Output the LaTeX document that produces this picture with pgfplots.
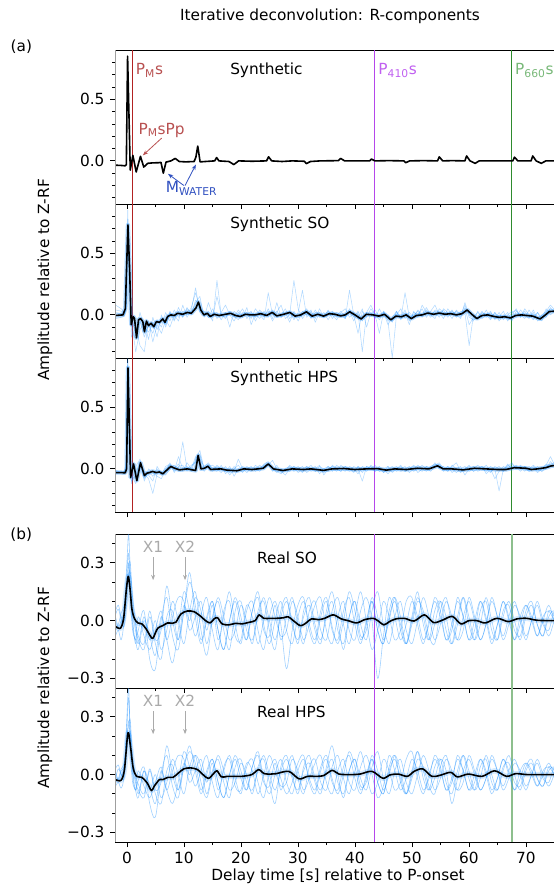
\documentclass[border=0pt]{standalone}
\usepackage{fontspec}
\setmainfont{DejaVu Sans}
\usepackage{pgfplots}
\usepackage{pgfplotstable}
\pgfplotsset{compat=1.18}
\usetikzlibrary{arrows.meta}

\definecolor{dblue}{HTML}{1E90FF}
\definecolor{pmred}{HTML}{B22222}
\definecolor{pmtext}{HTML}{B85050}
\definecolor{purp}{HTML}{B546EB}
\definecolor{purptext}{HTML}{C060F0}
\definecolor{gdark}{HTML}{2E8B2E}
\definecolor{glight}{HTML}{8DBF8D}
\definecolor{gtext}{HTML}{78B878}
\definecolor{mwat}{HTML}{3050C0}
\definecolor{xgray}{HTML}{AAAAAA}

% ---------- mean traces ----------
\pgfplotstableread{
t y
-2.0 -0.035
-1.0 -0.037
-0.3 -0.04
-0.1 -0.03
0.12 0.85
0.59 -0.075
1.05 0.045
1.63 -0.09
2.38 0.037
2.96 -0.05
3.66 -0.02
4.53 -0.016
5.5 -0.015
5.98 -0.012
6.39 -0.10
6.86 -0.01
7.73 0.0
8.48 0.02
9.18 -0.005
10.34 -0.008
11.8 -0.005
12.1 0.03
12.43 0.12
12.84 -0.008
14.4 -0.003
15.4 0.0
15.74 0.027
16.15 0.0
17.9 -0.005
18.76 -0.03
19.6 0.0
22.0 -0.003
24.5 0.0
24.86 0.033
25.4 0.0
27.2 -0.005
29.0 0.0
31.1 -0.003
31.5 -0.022
32.2 -0.005
33.9 0.0
37.1 0.002
37.5 0.02
38.2 0.0
40.0 0.0
42.6 0.0
42.9 0.015
43.5 0.0
46.0 0.002
48.6 0.0
48.9 -0.015
49.6 0.0
52.0 0.002
54.5 0.0
54.8 0.033
55.4 0.0
57.0 0.002
59.3 0.0
59.6 0.04
60.2 0.0
61.1 -0.02
61.8 0.0
64.0 0.0
66.5 0.0
67.7 0.0
68.0 0.03
68.6 0.0
70.0 0.0
70.9 0.0
71.2 0.04
71.8 0.0
72.7 -0.02
73.5 0.0
76.0 0.0
}\synA

\pgfplotstableread{
t y
-2.0 -0.005
-0.69 0.0
-0.28 0.05
0.18 0.73
0.47 0.38
0.76 -0.08
1.11 -0.014
1.34 -0.03
1.69 -0.186
2.04 -0.04
2.39 -0.03
2.79 -0.055
3.08 -0.137
3.43 -0.05
3.78 -0.087
4.24 -0.068
4.71 -0.096
5.17 -0.055
5.7 -0.06
6.3 -0.033
6.68 -0.06
7.15 -0.013
7.73 0.0
8.3 -0.005
8.9 0.013
9.76 0.005
10.6 0.02
11.3 0.013
12.1 0.055
12.55 0.104
12.96 0.04
13.5 0.0
14.1 0.013
14.6 -0.013
15.3 0.005
16.2 -0.005
17.3 0.005
18.2 0.013
19.06 -0.005
19.9 -0.013
20.8 0.005
21.7 0.0
22.5 0.0
23.5 0.01
24.5 -0.005
25.5 0.02
26.3 -0.008
27.5 0.005
28.6 0.02
29.5 -0.01
30.5 0.0
31.5 0.025
32.5 -0.01
33.5 0.005
34.5 -0.01
35.5 0.01
36.5 0.005
37.5 -0.008
38.3 0.0
39.1 0.025
40.0 0.0
41.1 -0.033
42.0 0.005
43.2 0.0
44.2 -0.01
45.2 0.005
46.3 -0.04
47.2 -0.01
48.2 -0.015
49.0 0.0
49.9 -0.03
50.8 -0.005
51.8 0.0
52.8 0.015
53.8 0.005
54.8 0.015
55.8 0.005
56.8 0.01
57.8 0.0
58.8 0.01
59.7 0.04
60.5 0.005
61.4 -0.03
62.3 -0.005
63.3 0.0
64.3 -0.012
65.3 -0.02
66.3 -0.015
67.3 -0.025
68.2 -0.005
69.2 0.0
70.2 -0.005
71.2 -0.01
72.5 -0.033
73.3 -0.005
74.1 0.027
75.0 0.03
76.0 0.035
}\synSOm

\pgfplotstableread{
t y
-2.0 -0.03
-1.0 -0.03
-0.3 -0.032
-0.05 0.0
0.19 0.82
0.65 -0.07
1.17 0.04
1.75 -0.095
2.39 0.05
3.08 -0.055
3.5 -0.035
3.95 -0.03
4.5 -0.02
5.1 -0.03
5.7 -0.025
6.3 -0.04
7.0 -0.01
7.7 0.02
8.4 0.005
9.2 -0.008
10.6 0.0
12.06 -0.013
12.5 0.11
13.0 0.0
13.6 0.005
14.2 0.022
14.7 -0.005
15.2 -0.003
16.5 0.0
17.5 -0.01
19.3 -0.015
20.5 0.0
22.0 -0.005
23.9 0.005
24.8 0.04
25.7 0.0
27.4 -0.013
29.0 0.0
31.0 -0.005
32.3 0.0
34.5 -0.012
36.0 0.0
38.0 0.003
40.0 -0.005
42.0 0.0
44.0 0.002
45.5 -0.01
47.0 0.0
49.0 -0.005
51.0 0.005
53.0 0.0
54.5 0.025
55.5 0.0
57.0 0.0
59.0 -0.008
61.0 0.005
63.0 0.0
65.0 -0.005
66.5 -0.005
68.0 0.01
70.0 0.005
71.0 -0.005
72.0 0.0
73.5 0.01
74.5 0.025
76.0 0.03
}\synHPSm

\pgfplotstableread{
t y
-2.0 -0.03
-1.15 -0.04
-0.58 0.01
-0.1 0.16
0.24 0.23
0.53 0.17
0.88 0.06
1.34 0.01
1.92 -0.012
2.62 -0.017
3.37 -0.043
4.24 -0.086
4.6 -0.09
5.4 -0.04
6.3 -0.026
7.15 -0.012
8.0 -0.014
8.6 -0.008
9.47 0.034
10.6 0.05
11.8 0.046
12.96 0.022
13.8 0.0
14.6 -0.012
15.3 0.009
15.9 0.015
16.7 -0.017
17.9 -0.022
19.06 -0.014
20.2 -0.017
21.4 -0.009
22.5 0.0
23.2 0.03
24.0 0.012
25.2 0.012
26.3 0.012
27.5 0.015
28.3 0.02
29.2 0.0
30.4 -0.026
31.2 -0.017
32.4 0.009
33.6 0.005
34.7 0.012
36.2 0.03
37.6 0.009
38.8 0.0
40.3 -0.012
41.7 0.005
43.2 0.012
44.0 0.0
45.1 -0.022
46.06 -0.005
47.2 0.009
48.7 0.012
50.4 -0.002
52.2 0.03
53.8 -0.01
55.4 0.003
57.1 0.022
58.6 -0.017
60.0 0.0
61.4 0.0
62.9 -0.012
64.9 0.012
66.9 -0.005
68.4 0.009
70.1 0.012
71.9 0.002
74.2 0.0
76.0 0.0
}\realSOm

\pgfplotstableread{
t y
-2.0 -0.026
-1.04 -0.03
-0.43 0.026
0.18 0.217
0.61 0.15
1.1 0.035
1.7 -0.009
2.6 -0.014
3.55 -0.043
4.3 -0.083
4.8 -0.06
5.7 -0.026
6.3 -0.026
7.2 -0.014
8.1 -0.014
9.06 0.009
10.0 0.03
11.2 0.035
12.4 0.026
13.35 0.0
14.3 -0.02
15.2 0.005
15.8 0.02
16.6 -0.012
17.6 -0.009
18.6 -0.009
20.1 -0.009
21.9 0.0
23.1 0.026
24.1 0.005
25.3 0.003
26.2 0.005
28.4 0.017
30.2 -0.022
31.7 -0.009
33.3 -0.009
34.5 -0.005
36.0 0.022
37.2 0.003
39.1 0.0
40.9 0.003
43.0 0.017
44.9 -0.019
46.1 -0.002
47.6 0.003
49.2 -0.009
50.4 0.017
51.9 0.03
53.5 -0.009
55.0 -0.003
56.8 0.012
58.0 -0.012
59.9 0.003
62.3 -0.009
64.5 0.02
66.6 -0.009
68.2 0.005
70.3 0.0
73.4 0.0
76.0 0.0
}\realHPSm

% ---------- individual traces ----------
\pgfplotstableread{
t a b c d
-2.0 0.08 0.04 -0.03 0.02
-1.0 0.05 0.03 -0.02 0.01
-0.4 0.02 0.01 -0.01 0.0
-0.1 0.1 0.05 0.2 0.08
0.15 0.85 0.7 0.78 0.65
0.45 0.3 0.35 0.25 0.4
0.8 -0.12 -0.05 -0.18 -0.02
1.55 -0.2 -0.3 -0.1 -0.15
2.3 -0.05 -0.12 -0.25 0.02
3.05 -0.18 -0.06 -0.3 -0.1
3.8 -0.08 -0.2 -0.05 -0.14
4.55 -0.15 -0.02 -0.22 -0.06
5.3 -0.04 -0.12 -0.08 -0.18
6.05 -0.1 -0.03 -0.15 0.0
6.8 0.02 -0.08 -0.04 -0.1
7.55 -0.05 0.03 -0.1 0.02
8.3 0.04 -0.04 0.0 -0.05
9.05 -0.02 0.06 -0.05 0.03
9.8 0.03 -0.02 0.08 -0.02
10.55 0.0 0.05 -0.02 0.06
11.3 0.06 0.02 0.04 0.0
12.05 0.18 0.1 0.22 0.12
12.8 0.05 0.15 0.02 0.08
13.55 0.0 -0.02 0.03 -0.01
14.3 0.03 0.1 -0.02 0.02
15.05 -0.02 0.0 0.05 -0.05
15.8 0.15 0.02 -0.03 0.28
16.55 0.0 -0.04 0.02 0.0
17.3 -0.03 0.02 0.08 -0.02
18.05 0.02 -0.1 0.0 0.03
18.8 -0.02 0.03 -0.05 -0.01
19.55 0.04 0.0 0.02 -0.04
20.3 -0.01 0.05 -0.02 0.02
21.05 0.02 -0.03 0.06 0.0
21.8 -0.03 0.02 -0.08 0.03
22.55 0.05 -0.02 0.01 -0.05
23.3 0.0 0.04 -0.03 0.02
24.05 -0.04 0.0 0.03 -0.02
24.8 0.18 0.03 -0.02 0.05
25.55 0.0 -0.05 0.04 -0.03
26.3 0.03 0.02 -0.02 0.1
27.05 -0.02 0.08 0.0 -0.02
27.8 0.02 -0.03 0.05 0.01
28.55 -0.06 0.0 -0.03 0.03
29.3 0.03 0.28 0.02 -0.04
30.05 -0.02 0.05 -0.05 0.02
30.8 0.0 -0.03 0.03 0.2
31.55 0.05 0.02 0.0 -0.02
32.3 -0.03 -0.02 0.04 0.03
33.05 0.02 0.04 -0.06 -0.03
33.8 0.0 -0.02 0.02 0.05
34.55 -0.02 0.02 -0.01 -0.02
35.3 0.04 -0.04 0.03 0.0
36.05 -0.03 0.02 0.0 0.03
36.8 0.02 0.0 -0.04 -0.02
37.55 0.0 0.03 0.02 0.01
38.3 -0.03 -0.02 0.05 -0.03
39.05 0.2 0.03 -0.02 0.05
39.8 0.0 -0.05 0.02 -0.02
40.55 -0.15 0.02 -0.03 0.03
41.3 0.03 -0.3 0.05 -0.05
42.05 -0.02 0.02 -0.1 0.02
42.8 0.05 0.0 0.02 0.08
43.55 0.0 0.04 -0.03 0.0
44.3 -0.04 -0.02 0.05 -0.15
45.05 0.02 0.03 -0.02 0.03
45.8 -0.08 -0.05 0.0 -0.02
46.55 -0.02 -0.35 -0.06 -0.05
47.3 0.03 0.0 0.03 0.02
48.05 -0.02 0.05 -0.04 -0.03
48.8 0.04 -0.03 0.02 0.18
49.55 -0.05 0.02 -0.08 -0.02
50.3 0.02 -0.02 0.03 0.0
51.05 0.0 0.04 -0.02 0.03
51.8 0.05 0.0 0.08 -0.02
52.55 -0.02 0.06 0.02 0.04
53.3 0.03 0.0 -0.02 0.0
54.05 0.08 0.03 0.04 -0.03
54.8 0.0 -0.02 0.02 0.05
55.55 0.04 0.05 -0.03 0.02
56.3 -0.02 0.02 0.05 0.0
57.05 0.03 -0.03 0.0 0.04
57.8 0.0 0.04 0.03 -0.02
58.55 -0.03 0.0 -0.02 0.03
59.3 0.06 0.08 0.1 0.02
60.05 -0.08 -0.02 0.0 -0.25
60.8 -0.02 -0.04 -0.05 0.0
61.55 0.02 -0.02 0.03 -0.03
62.3 -0.03 0.03 -0.02 0.02
63.05 0.0 -0.02 0.04 0.0
63.8 0.03 0.02 -0.03 -0.04
64.55 -0.04 -0.03 0.02 0.02
65.3 0.0 0.02 -0.05 -0.02
66.05 -0.02 -0.04 0.0 0.03
66.8 0.02 0.0 -0.03 -0.05
67.55 -0.05 0.03 0.02 0.0
68.3 0.03 -0.02 0.04 0.05
69.05 0.0 0.04 -0.02 -0.02
69.8 -0.03 0.0 0.05 0.03
70.55 0.04 -0.03 0.0 -0.02
71.3 -0.02 0.02 -0.04 0.04
72.05 0.02 -0.05 0.02 -0.03
72.8 -0.05 0.0 -0.03 0.0
73.55 0.02 0.03 0.05 -0.02
74.3 0.05 0.08 0.0 0.06
75.05 0.02 0.04 0.03 0.02
75.8 0.03 0.05 0.02 0.04
}\synSOb

\pgfplotstableread{
t a b c d
-2.0 -0.02 -0.04 -0.03 -0.01
-1.0 -0.03 -0.03 -0.02 -0.03
-0.4 -0.03 -0.02 -0.04 -0.02
-0.1 0.05 0.0 0.1 0.02
0.15 0.88 0.8 0.9 0.84
0.45 0.25 0.35 0.2 0.3
0.8 -0.1 -0.05 -0.12 -0.06
1.55 -0.05 -0.12 0.02 -0.08
2.3 0.06 0.02 0.08 0.04
3.05 -0.08 -0.04 -0.1 -0.02
3.8 -0.02 -0.08 0.0 -0.05
4.55 -0.06 -0.2 -0.03 -0.1
5.3 0.0 -0.04 -0.06 0.02
6.05 -0.05 -0.02 -0.08 -0.04
6.8 0.02 -0.05 0.0 -0.02
7.55 0.04 0.0 0.03 0.05
8.3 -0.02 0.03 0.0 -0.03
9.05 0.1 0.0 0.04 0.02
9.8 0.0 0.22 -0.02 0.03
10.55 0.02 0.0 0.05 -0.02
11.3 -0.02 0.03 0.0 0.02
12.05 0.08 0.05 0.1 0.06
12.8 0.15 0.08 0.05 0.12
13.55 0.0 0.02 -0.02 0.0
14.3 0.03 0.05 0.02 0.04
15.05 -0.02 0.0 0.03 -0.01
15.8 0.02 -0.02 0.0 0.03
16.55 -0.01 0.03 -0.03 0.0
17.3 0.0 -0.04 0.02 -0.02
18.05 -0.05 0.0 -0.03 0.02
18.8 0.0 -0.02 0.02 -0.06
19.55 0.03 0.08 -0.02 0.0
20.3 -0.02 0.0 0.02 -0.03
21.05 0.0 -0.03 0.0 0.02
21.8 0.02 0.01 -0.02 -0.01
22.55 -0.02 0.0 0.03 0.0
23.3 0.0 0.03 0.0 -0.02
24.05 0.02 0.0 0.04 0.03
24.8 0.05 0.03 0.06 0.04
25.55 0.0 0.07 0.0 -0.02
26.3 -0.02 0.0 -0.03 0.03
27.05 -0.04 -0.02 0.0 -0.03
27.8 0.0 -0.05 -0.02 0.0
28.55 0.02 0.0 0.03 -0.02
29.3 -0.02 0.02 0.0 0.02
30.05 0.0 -0.03 0.02 0.0
30.8 0.02 0.0 -0.02 -0.03
31.55 -0.03 0.02 0.0 0.02
32.3 0.0 -0.02 0.03 0.0
33.05 0.02 0.0 -0.02 -0.02
33.8 -0.04 0.03 0.0 0.02
34.55 0.0 -0.05 -0.03 0.0
35.3 0.02 0.0 0.02 -0.02
36.05 0.0 0.02 -0.02 0.03
36.8 -0.02 0.0 0.03 0.0
37.55 0.03 -0.02 0.0 -0.02
38.3 0.0 0.02 -0.02 0.02
39.05 -0.02 0.0 0.02 0.0
39.8 0.02 -0.03 0.0 -0.02
40.55 0.0 0.02 -0.04 0.02
41.3 -0.1 0.0 0.02 -0.03
42.05 0.02 -0.02 0.0 0.02
42.8 0.0 0.03 0.02 0.0
43.55 -0.02 0.0 -0.02 0.03
44.3 0.02 -0.02 0.0 -0.02
45.05 -0.03 0.0 -0.03 0.0
45.8 0.0 -0.04 0.02 0.02
46.55 0.02 0.0 -0.02 -0.03
47.3 -0.02 0.02 0.0 0.0
48.05 0.0 -0.02 0.03 0.02
48.8 0.02 0.0 -0.02 -0.02
49.55 -0.03 0.02 0.0 0.0
50.3 0.0 -0.02 0.02 0.03
51.05 0.03 0.0 -0.03 0.0
51.8 0.0 0.03 0.0 -0.02
52.55 -0.02 0.0 0.02 0.02
53.3 0.02 -0.02 0.0 0.0
54.05 0.04 0.02 0.05 0.03
54.8 0.02 0.04 0.0 0.05
55.55 0.0 -0.02 0.02 0.0
56.3 -0.02 0.02 -0.02 0.02
57.05 0.03 0.0 0.02 -0.03
57.8 0.0 -0.03 0.05 0.0
58.55 -0.03 0.0 -0.02 0.02
59.3 0.0 0.02 0.0 -0.05
60.05 0.02 -0.02 0.03 0.0
60.8 -0.02 0.0 -0.02 0.02
61.55 0.0 0.03 0.0 -0.02
62.3 0.02 0.0 0.02 0.0
63.05 -0.04 -0.02 0.0 0.03
63.8 0.0 0.02 -0.03 -0.02
64.55 -0.08 0.0 0.02 0.0
65.3 -0.02 -0.18 0.0 0.02
66.05 0.02 0.0 -0.02 -0.02
66.8 0.0 0.03 0.02 0.04
67.55 0.04 0.0 0.05 0.0
68.3 0.0 0.02 0.0 0.03
69.05 0.03 -0.02 0.02 0.0
69.8 0.0 0.02 -0.02 0.02
70.55 -0.02 0.0 0.02 -0.02
71.3 0.02 0.03 0.0 0.0
72.05 -0.02 0.0 -0.03 0.02
72.8 0.0 -0.02 0.0 -0.02
73.55 0.03 0.02 0.04 0.0
74.3 0.1 0.04 0.02 0.06
75.05 0.03 0.05 0.03 0.02
75.8 0.03 0.04 0.02 0.03
}\synHPSb

\pgfplotstableread{
t a b c d e f
-2 0.02 -0.05 0.05 -0.08 0.0 0.03
-1.5 -0.03 -0.02 0.08 -0.05 -0.04 0.06
-1 0.0 0.04 0.02 -0.1 -0.02 0.0
-0.5 0.06 0.08 0.0 0.0 0.05 -0.03
0 0.3 0.2 0.15 0.25 0.18 0.1
0.3 0.45 0.3 0.28 0.35 0.25 0.22
0.6 0.25 0.2 0.3 0.15 0.12 0.25
1.0 0.02 0.05 0.1 -0.02 -0.05 0.12
1.5 -0.12 -0.05 -0.02 -0.1 -0.1 0.0
2 -0.05 -0.1 -0.12 0.02 -0.15 -0.08
3 0.05 -0.15 0.02 -0.08 0.0 -0.12
4 -0.2 0.02 -0.1 -0.15 -0.08 0.05
5 -0.25 -0.12 0.0 -0.05 -0.18 -0.1
6 0.0 -0.2 -0.15 0.05 0.02 -0.05
7 0.12 0.02 -0.05 -0.1 -0.1 0.18
8 -0.08 0.05 0.1 0.02 -0.22 0.0
9 -0.15 -0.1 0.0 0.12 -0.05 -0.1
10 0.05 0.08 -0.12 0.1 0.15 0.05
11 0.2 0.0 0.05 -0.05 0.05 0.25
12 0.08 0.12 0.15 0.02 -0.08 0.02
13 -0.1 0.05 -0.05 0.1 0.03 -0.12
14 0.02 -0.12 -0.18 -0.05 0.12 0.0
15 0.1 0.02 0.0 0.08 -0.05 0.1
16 -0.05 0.1 0.12 -0.1 -0.15 -0.05
17 -0.15 -0.05 0.02 0.02 0.05 -0.15
18 0.0 -0.15 -0.1 0.15 0.1 0.0
19 0.12 0.05 -0.05 -0.02 -0.08 0.1
20 0.02 0.1 0.08 -0.12 -0.1 -0.02
21 -0.1 -0.05 0.0 0.05 0.08 -0.1
22 0.05 -0.1 -0.12 0.1 0.02 0.05
23 0.15 0.02 0.05 -0.05 -0.12 0.12
24 -0.02 0.12 0.1 -0.15 0.0 -0.05
25 -0.12 0.0 -0.05 0.02 0.12 -0.08
26 0.0 -0.1 -0.15 0.1 0.02 0.08
27 0.1 0.02 0.05 -0.02 -0.08 -0.1
28 -0.05 0.1 0.12 -0.25 -0.05 0.02
29 -0.12 0.0 -0.02 -0.05 0.1 0.12
30 0.02 -0.12 -0.1 0.08 0.02 -0.02
31 0.1 0.05 0.02 0.12 -0.1 -0.12
32 -0.02 0.12 0.08 -0.05 -0.02 0.05
33 -0.1 -0.02 -0.05 -0.12 0.08 0.1
34 0.05 -0.1 -0.12 0.02 0.12 -0.05
35 0.12 0.02 0.05 0.1 -0.05 -0.1
36 -0.03 0.1 0.15 -0.05 -0.12 0.05
37 -0.12 -0.05 0.0 -0.1 0.02 0.12
38 0.0 -0.12 -0.15 0.05 0.1 -0.02
39 0.15 0.02 0.02 0.12 -0.05 -0.12
40 0.05 0.1 0.1 -0.02 -0.1 0.02
41 -0.1 -0.02 -0.08 -0.12 0.05 0.15
42 -0.02 -0.1 -0.05 0.0 0.12 0.0
43 0.12 0.05 0.1 0.1 0.0 -0.15
44 0.02 0.15 -0.05 -0.05 -0.3 -0.05
45 -0.1 -0.02 -0.12 -0.12 -0.08 0.1
46 0.0 -0.12 0.02 0.05 0.12 0.02
47 0.12 0.02 0.1 0.12 0.02 -0.1
48 0.02 0.1 -0.02 -0.05 -0.1 -0.05
49 -0.12 -0.05 -0.12 -0.12 -0.02 0.1
50 -0.02 -0.12 0.0 0.02 0.1 0.12
51 0.1 0.0 0.12 0.15 0.02 -0.02
52 0.05 0.12 0.02 -0.02 -0.1 -0.12
53 -0.08 0.02 -0.1 -0.1 -0.02 0.0
54 -0.12 -0.1 -0.02 0.05 0.12 0.1
55 0.05 -0.02 0.1 0.1 0.05 0.02
56 0.12 0.1 0.02 -0.05 -0.1 -0.1
57 -0.02 0.02 -0.12 -0.12 -0.02 -0.05
58 -0.1 -0.1 -0.02 0.02 0.1 0.12
59 0.02 -0.05 0.12 0.12 0.02 0.02
60 0.1 0.12 0.02 -0.02 -0.1 -0.1
61 0.0 0.02 -0.1 -0.1 -0.05 0.0
62 -0.1 -0.1 -0.02 0.05 0.1 0.1
63 -0.02 -0.02 0.12 0.1 0.02 0.0
64 0.12 0.1 0.0 -0.05 -0.1 -0.12
65 0.02 0.02 -0.1 -0.1 -0.02 -0.02
66 -0.1 -0.08 0.02 0.05 0.1 0.1
67 -0.02 0.02 0.1 0.08 0.02 0.0
68 0.08 0.1 0.0 -0.05 -0.1 -0.1
69 0.02 0.0 -0.1 -0.08 -0.02 0.02
70 -0.08 -0.1 0.02 0.05 0.08 0.08
71 0.0 0.0 0.08 0.1 0.02 0.0
72 0.1 0.08 -0.02 -0.02 -0.08 -0.08
73 0.0 -0.02 -0.08 -0.08 0.0 0.02
74 -0.08 -0.05 0.02 0.05 0.08 0.05
75 0.0 0.05 0.05 0.02 0.0 0.0
76 0.05 0.02 -0.02 -0.03 -0.05 -0.02
}\realSOb

\pgfplotstableread{
t a b c d e f
-2 0.0 -0.04 0.03 -0.06 0.02 -0.02
-1.5 -0.03 -0.02 0.05 -0.04 -0.03 0.03
-1 0.02 0.03 0.0 -0.07 -0.01 0.0
-0.5 0.05 0.06 0.02 0.0 0.04 -0.02
0 0.25 0.18 0.2 0.3 0.15 0.12
0.3 0.4 0.28 0.25 0.45 0.22 0.2
0.6 0.22 0.18 0.28 0.2 0.1 0.22
1.0 0.03 0.04 0.08 0.0 -0.04 0.1
1.5 -0.08 -0.04 -0.02 -0.08 -0.08 0.0
2 -0.03 -0.08 -0.1 0.02 -0.12 -0.05
3 0.04 -0.12 0.02 -0.06 0.02 -0.1
4 -0.15 0.02 -0.08 -0.12 -0.06 0.03
5 -0.22 -0.1 0.0 -0.04 -0.15 -0.08
6 0.0 -0.15 -0.12 0.04 0.02 -0.04
7 0.1 0.02 -0.04 -0.08 -0.08 0.15
8 -0.06 0.05 0.08 0.02 -0.15 0.0
9 -0.12 -0.08 0.0 0.1 -0.04 -0.08
10 0.04 0.06 -0.1 0.08 0.12 0.04
11 0.12 0.0 0.04 -0.04 0.04 0.15
12 0.06 0.1 0.1 0.02 -0.06 0.02
13 -0.08 0.04 -0.04 0.08 0.02 -0.1
14 0.02 -0.1 -0.12 -0.04 0.1 0.0
15 0.08 0.02 0.0 0.06 -0.04 0.08
16 -0.04 0.08 0.1 -0.08 -0.12 -0.04
17 -0.12 -0.04 0.02 0.02 0.04 -0.12
18 0.0 -0.12 -0.08 0.1 0.08 0.0
19 0.1 0.04 -0.04 -0.02 -0.06 0.08
20 0.02 0.08 0.06 -0.1 -0.08 -0.02
21 -0.08 -0.04 0.0 0.04 0.06 -0.08
22 0.04 -0.08 -0.1 0.08 0.02 0.04
23 0.12 0.02 0.04 -0.04 -0.1 0.1
24 -0.02 0.1 0.08 -0.12 0.0 -0.04
25 -0.1 0.0 -0.04 0.02 0.1 -0.06
26 0.0 -0.08 -0.15 0.08 0.02 0.06
27 0.08 0.02 0.04 -0.02 -0.06 -0.08
28 -0.04 0.08 0.1 -0.1 -0.04 0.02
29 -0.1 0.0 -0.02 -0.04 0.08 0.1
30 0.02 -0.1 -0.08 0.06 0.02 -0.02
31 0.08 0.04 0.02 0.1 -0.08 -0.1
32 -0.02 0.1 0.06 -0.04 -0.02 0.04
33 -0.08 -0.02 -0.04 -0.1 0.06 0.08
34 0.04 -0.08 -0.1 0.02 0.1 -0.04
35 0.1 0.02 0.04 0.08 -0.04 -0.08
36 -0.02 0.08 0.15 -0.04 -0.1 0.04
37 -0.1 -0.04 0.0 -0.08 0.02 0.1
38 0.0 -0.1 -0.12 0.04 0.08 -0.02
39 0.12 0.02 0.02 0.1 -0.04 -0.1
40 0.04 0.08 0.08 -0.02 -0.08 0.02
41 -0.08 -0.02 -0.06 -0.1 0.04 0.12
42 -0.02 -0.08 -0.04 0.0 0.1 0.0
43 0.1 0.04 0.08 0.08 0.0 -0.1
44 0.02 0.12 -0.04 -0.04 -0.12 -0.04
45 -0.08 -0.02 -0.1 -0.1 -0.06 0.08
46 0.0 -0.1 0.02 0.04 0.1 0.02
47 0.1 0.02 0.08 0.1 0.02 -0.08
48 0.02 0.08 -0.02 -0.04 -0.08 -0.04
49 -0.1 -0.04 -0.1 -0.1 -0.02 0.08
50 -0.02 -0.1 0.0 0.02 0.08 0.12
51 0.08 0.0 0.12 0.12 0.02 -0.02
52 0.04 0.1 0.02 -0.02 -0.08 -0.1
53 -0.06 0.02 -0.08 -0.08 -0.02 0.0
54 -0.1 -0.08 -0.02 0.04 0.1 0.08
55 0.04 -0.02 0.08 0.08 0.04 0.02
56 0.1 0.08 0.02 -0.04 -0.08 -0.08
57 -0.02 0.02 -0.15 -0.1 -0.02 -0.04
58 -0.08 -0.08 -0.02 0.02 0.08 0.1
59 0.02 -0.04 0.1 0.1 0.02 0.02
60 0.08 0.1 0.02 -0.02 -0.08 -0.08
61 0.0 0.02 -0.08 -0.08 -0.04 0.0
62 -0.08 -0.08 -0.02 0.04 0.08 0.08
63 -0.02 -0.02 0.1 0.08 0.02 0.0
64 0.1 0.08 0.0 -0.04 -0.08 -0.1
65 0.02 0.02 -0.08 -0.08 -0.02 -0.02
66 -0.08 -0.06 0.02 0.04 0.08 0.08
67 -0.02 0.02 0.1 0.06 0.02 0.0
68 0.06 0.08 0.0 -0.04 -0.08 -0.08
69 0.02 0.0 -0.08 -0.06 -0.02 0.02
70 -0.06 -0.08 0.02 0.04 0.06 0.06
71 0.0 0.0 0.06 0.08 0.02 0.0
72 0.08 0.06 -0.02 -0.02 -0.06 -0.06
73 0.0 -0.02 -0.06 -0.06 0.0 0.02
74 -0.06 -0.04 0.02 0.04 0.06 0.04
75 0.0 0.04 0.04 0.02 0.0 0.0
76 0.04 0.02 -0.02 -0.02 -0.04 -0.02
}\realHPSb

\pgfplotsset{
  panel/.style={
    at={#1}, anchor=north west,
    scale only axis, width=333.45pt, height=115.5pt,
    xmin=-2, xmax=76,
    xtick={0,10,...,70}, minor xtick={5,15,...,75},
    xticklabels={},
    xtick pos=left, ytick pos=left,
    tick align=outside,
    major tick length=3.8pt, minor tick length=2.3pt,
    tick style={black, line width=0.6pt},
    axis line style={line width=0.6pt},
    clip mode=individual,
    /pgf/number format/assume math mode=true,
    yticklabel style={xshift=-1pt},
  },
  synpanel/.style={ymin=-0.35, ymax=0.9, ytick={0,0.5}, yticklabels={0.0,0.5},
    minor ytick={-0.3,-0.2,-0.1,0.1,0.2,0.3,0.4,0.6,0.7,0.8}},
  realpanel/.style={ymin=-0.35, ymax=0.45, ytick={-0.3,0,0.3}, yticklabels={−0.3,0.0,0.3},
    minor ytick={-0.2,-0.1,0.1,0.2,0.4}},
  bl/.style={color=dblue, opacity=0.35, line width=0.4pt, line join=round},
  blr/.style={color=dblue, opacity=0.42, line width=0.45pt, line join=round, smooth, tension=0.55},
  core/.style={color=dblue, opacity=0.35, line width=3.2pt, line join=round},
  corer/.style={color=dblue, opacity=0.18, line width=4pt, line join=round, smooth, tension=0.5},
  mean/.style={black, line width=1.2pt, line join=round},
}

\begin{document}
\begin{tikzpicture}[font=\fontsize{11.5}{13.8}\selectfont]

% ---------------- Panel 1 : Synthetic ----------------
\begin{axis}[panel={(86.625pt,-37.5pt)}, synpanel]
\addplot[pmred, line width=0.8pt] coordinates {(0.94,-0.35) (0.94,0.9)};
\addplot[purp, line width=0.8pt] coordinates {(43.5,-0.35) (43.5,0.9)};
\addplot[gdark, line width=0.8pt] coordinates {(67.5,-0.35) (67.5,0.9)};
\addplot[mean] table[x=t,y=y] {\synA};
\node[anchor=base west, inner sep=2.5pt, text=pmtext] at (axis cs:0.94,0.70) {P\textsubscript{M}s};
\node[anchor=base west, inner sep=2.5pt, text=purptext] at (axis cs:43.5,0.70) {P\textsubscript{410}s};
\node[anchor=base west, inner sep=2.5pt, text=gtext] at (axis cs:67.5,0.70) {P\textsubscript{660}s};
\node[anchor=base west, inner sep=0pt] at (rel axis cs:0.2575,0.842) {Synthetic};
\node[anchor=base west, inner sep=0pt, text=pmtext] at (axis cs:2.0,0.215) {P\textsubscript{M}sPp};
\draw[pmtext, line width=0.6pt, -{Stealth[length=4pt,width=3pt]}] (axis cs:6.1,0.185) -- (axis cs:2.8,0.045);
\node[anchor=base west, inner sep=0pt, text=mwat] at (axis cs:6.8,-0.26) {M\textsubscript{WATER}};
\draw[mwat, line width=0.6pt, -{Stealth[length=4pt,width=3pt]}] (axis cs:10.0,-0.2) -- (axis cs:7.2,-0.105);
\draw[mwat, line width=0.6pt, -{Stealth[length=4pt,width=3pt]}] (axis cs:10.2,-0.2) -- (axis cs:12.1,-0.03);
\draw[gray!75, line width=1.4pt] (rel axis cs:0,0) -- (rel axis cs:0,1);
\end{axis}

% ---------------- Panel 2 : Synthetic SO ----------------
\begin{axis}[panel={(86.625pt,-153pt)}, synpanel]
\addplot[pmred, line width=0.8pt] coordinates {(0.94,-0.35) (0.94,0.9)};
\addplot[purp, line width=0.8pt] coordinates {(43.5,-0.35) (43.5,0.9)};
\addplot[gdark, line width=0.8pt] coordinates {(67.5,-0.35) (67.5,0.9)};
\addplot[core] table[x=t,y=y] {\synSOm};
\pgfplotsinvokeforeach{a,b,c,d}{\addplot[bl] table[x=t,y=#1] {\synSOb};}
\addplot[mean] table[x=t,y=y] {\synSOm};
\node[anchor=base west, inner sep=0pt] at (rel axis cs:0.2575,0.842) {Synthetic SO};
\draw[gray!75, line width=1.4pt] (rel axis cs:0,0) -- (rel axis cs:0,1);
\end{axis}

% ---------------- Panel 3 : Synthetic HPS ----------------
\begin{axis}[panel={(86.625pt,-268.5pt)}, synpanel]
\addplot[pmred, line width=0.8pt] coordinates {(0.94,-0.35) (0.94,0.9)};
\addplot[purp, line width=0.8pt] coordinates {(43.5,-0.35) (43.5,0.9)};
\addplot[gdark, line width=0.8pt] coordinates {(67.5,-0.35) (67.5,0.9)};
\addplot[core] table[x=t,y=y] {\synHPSm};
\pgfplotsinvokeforeach{a,b,c,d}{\addplot[bl] table[x=t,y=#1] {\synHPSb};}
\addplot[mean] table[x=t,y=y] {\synHPSm};
\node[anchor=base west, inner sep=0pt] at (rel axis cs:0.2575,0.842) {Synthetic HPS};
\draw[gray!75, line width=1.4pt] (rel axis cs:0,0) -- (rel axis cs:0,1);
\end{axis}

% ---------------- Panel 4 : Real SO ----------------
\begin{axis}[panel={(86.625pt,-400.5pt)}, realpanel]
\addplot[purp, line width=0.8pt] coordinates {(43.5,-0.35) (43.5,0.45)};
\addplot[glight, line width=1.5pt] coordinates {(67.5,-0.35) (67.5,0.45)};
\addplot[corer] table[x=t,y=y] {\realSOm};
\pgfplotsinvokeforeach{a,b,c,d,e,f}{\addplot[blr] table[x=t,y=#1] {\realSOb};}
\addplot[mean, smooth, tension=0.5] table[x=t,y=y] {\realSOm};
\node[anchor=base west, inner sep=0pt] at (rel axis cs:0.318,0.81) {Real SO};
\node[anchor=base, inner sep=0pt, text=xgray] at (axis cs:4.6,0.355) {X1};
\node[anchor=base, inner sep=0pt, text=xgray] at (axis cs:10.2,0.355) {X2};
\draw[xgray, line width=0.8pt, -{Stealth[length=4pt,width=3pt]}] (axis cs:4.6,0.33) -- (axis cs:4.6,0.21);
\draw[xgray, line width=0.8pt, -{Stealth[length=4pt,width=3pt]}] (axis cs:10.2,0.33) -- (axis cs:10.2,0.21);
\draw[gray!75, line width=1.4pt] (rel axis cs:0,0) -- (rel axis cs:0,1);
\end{axis}

% ---------------- Panel 5 : Real HPS ----------------
\begin{axis}[panel={(86.625pt,-516pt)}, realpanel,
  xticklabels={0,10,20,30,40,50,60,70}]
\addplot[purp, line width=0.8pt] coordinates {(43.5,-0.35) (43.5,0.45)};
\addplot[glight, line width=1.5pt] coordinates {(67.5,-0.35) (67.5,0.45)};
\addplot[corer] table[x=t,y=y] {\realHPSm};
\pgfplotsinvokeforeach{a,b,c,d,e,f}{\addplot[blr] table[x=t,y=#1] {\realHPSb};}
\addplot[mean, smooth, tension=0.5] table[x=t,y=y] {\realHPSm};
\node[anchor=base west, inner sep=0pt] at (rel axis cs:0.318,0.81) {Real HPS};
\node[anchor=base, inner sep=0pt, text=xgray] at (axis cs:4.6,0.355) {X1};
\node[anchor=base, inner sep=0pt, text=xgray] at (axis cs:10.2,0.355) {X2};
\draw[xgray, line width=0.8pt, -{Stealth[length=4pt,width=3pt]}] (axis cs:4.6,0.33) -- (axis cs:4.6,0.21);
\draw[xgray, line width=0.8pt, -{Stealth[length=4pt,width=3pt]}] (axis cs:10.2,0.33) -- (axis cs:10.2,0.21);
\draw[gray!75, line width=1.4pt] (rel axis cs:0,0) -- (rel axis cs:0,1);
\end{axis}

% ---------------- figure texts ----------------
\node at (247.5pt,-12pt) {Iterative deconvolution: R-components};
\node at (16pt,-35pt) {(a)};
\node at (16pt,-401pt) {(b)};
\node[rotate=90] at (33.75pt,-210pt) {Amplitude relative to Z-RF};
\node[rotate=90] at (33.75pt,-516pt) {Amplitude relative to Z-RF};
\node at (253.5pt,-657.5pt) {Delay time [s] relative to P-onset};

\pgfresetboundingbox
\path[use as bounding box] (0pt,0pt) rectangle (414.75pt,-665.25pt);
\end{tikzpicture}
\end{document}
